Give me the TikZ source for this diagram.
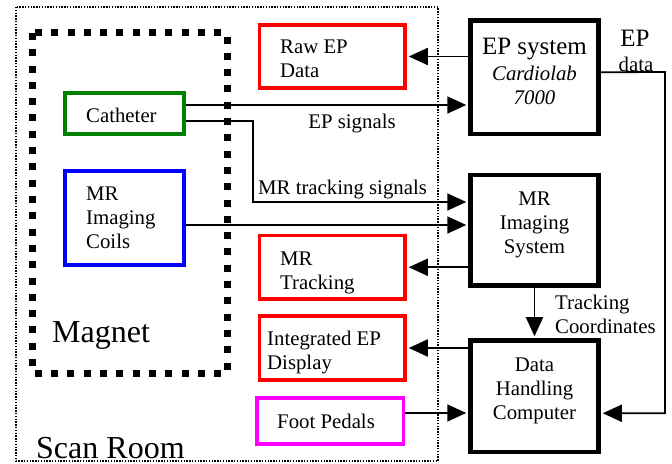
\documentclass[tikz,border=0pt]{standalone}
\usepackage{fontspec}
\setmainfont{Liberation Serif}
\usetikzlibrary{arrows.meta}
\definecolor{cRed}{RGB}{255,0,0}
\definecolor{cGreen}{RGB}{0,128,0}
\definecolor{cBlue}{RGB}{0,0,255}
\definecolor{cMag}{RGB}{255,0,255}
\newcommand\fsN{\fontsize{20.8bp}{24bp}\selectfont}
\newcommand\fsL{\fontsize{25bp}{28bp}\selectfont}
\newcommand\fsH{\fontsize{32bp}{36bp}\selectfont}
\begin{document}
\begin{tikzpicture}[x=1bp,y=-1bp,
  conn/.style={line width=1.8bp,-{Triangle[length=19bp,width=17bp]},shorten >=2bp},
  boxk/.style={draw=black,line width=4.5bp,inner sep=0,minimum width=128bp},
  boxr/.style={draw=cRed,line width=3.5bp,inner sep=0,minimum width=145.5bp},
  boxg/.style={draw=cGreen,line width=3.5bp,inner sep=0,minimum width=119bp},
  boxb/.style={draw=cBlue,line width=3.5bp,inner sep=0,minimum width=119bp},
  boxm/.style={draw=cMag,line width=3.5bp,inner sep=0,minimum width=146.5bp},
  txt/.style={inner sep=0,font=\fsN,align=left},
  txtc/.style={inner sep=0,font=\fsN,align=center},
  roomframe/.style={line width=1.4bp,dash pattern=on 1.4bp off 1.4bp},
  magframe/.style={line width=7bp,dash pattern=on 7bp off 9.3bp}]
\useasboundingbox (0,0) rectangle (672,464);

% frames
\draw[roomframe] (16,7) rectangle (438,461);
\draw[magframe] (32.5,33) rectangle (227,373);

% boxes
\node[boxr,minimum height=63bp] (raw) at (332.25,56.5) {};
\node[boxg,minimum height=41bp] (cath) at (124.5,113.5) {};
\node[boxb,minimum height=94bp] (coils) at (124.5,218) {};
\node[boxk,minimum height=113.5bp] (eps) at (534.5,77.25) {};
\node[boxk,minimum height=110.5bp] (mri) at (534.5,230.25) {};
\node[boxr,minimum height=63.5bp] (trk) at (332.25,267.25) {};
\node[boxr,minimum height=64bp] (integ) at (332.25,348) {};
\node[boxm,minimum height=46bp] (foot) at (330.25,421) {};
\node[boxk,minimum height=111.5bp] (dhc) at (534.5,396.25) {};

% texts (base anchor = baseline of the last line)
\node[txt,anchor=base west] (traw) at (280,78) {Raw EP\\Data};
\node[txt,anchor=base west] (tcath) at (86,123) {Catheter};
\node[txt,anchor=base west] (tcoils) at (86,249) {MR\\Imaging\\Coils};
\node[txt,anchor=base west] (ttrk) at (280,290) {MR\\Tracking};
\node[txt,anchor=base west] (tinteg) at (267,369) {Integrated EP\\Display};
\node[txt,anchor=base west] (tfoot) at (277,428) {Foot Pedals};
\node[inner sep=0,font=\fsH,anchor=base west] (tmag) at (52,342) {Magnet};
\node[inner sep=0,font=\fsH,anchor=base west] (troom) at (36,458) {Scan Room};
\node[inner sep=0,font=\fsL,anchor=base] (teps) at (534.5,55) {EP system};
\node[txtc,font=\fsN\itshape,anchor=base] (tcard) at (534.5,105) {Cardiolab\\7000};
\node[txtc,anchor=base] (tmri) at (534.5,254) {MR\\Imaging\\System};
\node[txtc,anchor=base] (tdhc) at (534.5,419) {Data\\Handling\\Computer};
\node[txt,anchor=base west] (tcoord) at (555,334) {Tracking\\Coordinates};
\node[inner sep=0,font=\fsL,anchor=base] (tepd1) at (635,47) {EP};
\node[inner sep=0,font=\fsN,anchor=base] (tepd2) at (636,72) {data};
\node[inner sep=0,font=\fsN,anchor=base] (tsig) at (352,129) {EP signals};
\node[inner sep=0,font=\fsN,anchor=base west] (tmrs) at (258,195) {MR tracking signals};

% connectors
\draw[conn] (eps.west |- raw) -- (raw.east);
\coordinate (c1) at ([yshift=8.5bp]cath.east);
\draw[conn] (c1) -- (c1 -| eps.west);
\coordinate (c2) at ([yshift=-7.5bp]cath.east);
\coordinate (k2) at (253,202);
\draw[conn] (c2) -| (k2) -- (k2 -| mri.west);
\coordinate (c3) at ([yshift=-7bp]coils.east);
\draw[conn] (c3) -- (c3 -| mri.west);
\draw[conn] (mri.west |- trk) -- (trk.east);
\draw[conn] (mri.south) -- (dhc.north);
\draw[conn] (dhc.west |- integ) -- (integ.east);
\coordinate (c8) at ([yshift=8bp]foot.east);
\draw[conn] (c8) -- (c8 -| dhc.west);
\coordinate (c9) at ([yshift=5bp]eps.east);
\coordinate (k9) at (665,72);
\draw[conn] (c9) -- (k9) |- ([yshift=-17bp]dhc.east);
\end{tikzpicture}
\end{document}
